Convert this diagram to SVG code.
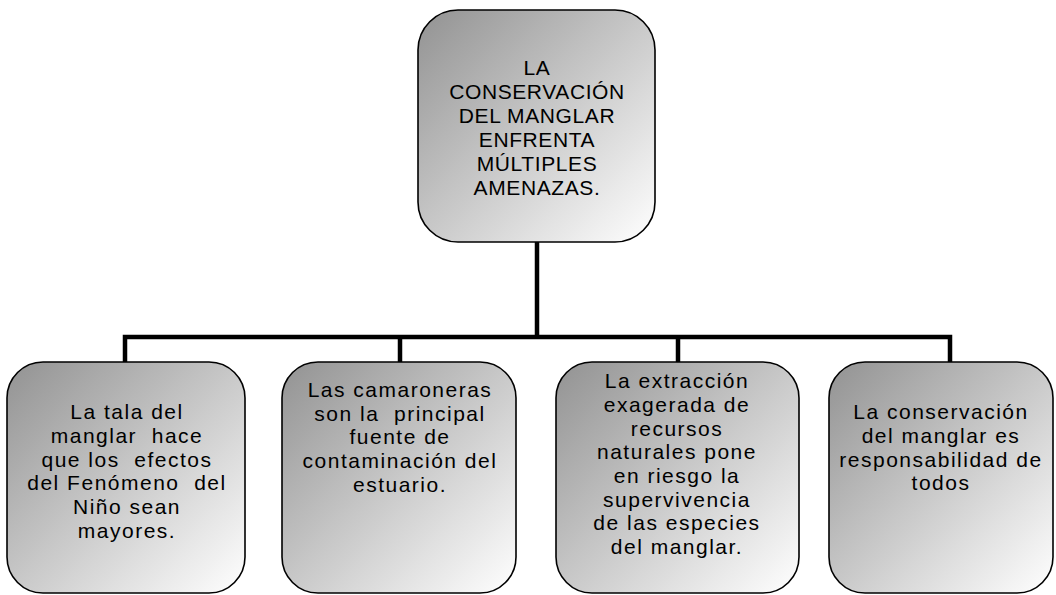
<svg xmlns="http://www.w3.org/2000/svg" width="1056" height="595" viewBox="0 0 1056 595">
<defs>
<linearGradient id="g" x1="0" y1="0" x2="1" y2="1">
<stop offset="0" stop-color="#929292"/>
<stop offset="1" stop-color="#ffffff"/>
</linearGradient>
<style>
.box{fill:url(#g);stroke:#000;stroke-width:1.6}
.t{font-family:"Liberation Sans",Arial,sans-serif;font-size:21px;letter-spacing:1.5px;fill:#000;text-anchor:middle;white-space:pre}
.h{font-size:21px;letter-spacing:0.6px}
.c{fill:none;stroke:#000;stroke-width:4.5;stroke-linejoin:miter;stroke-linecap:butt}
</style>
</defs>
<rect width="1056" height="595" fill="#fff"/>
<g id="connectors">
<path class="c" d="M537 242 V337"/>
<path class="c" d="M125 362 V337 H950 V362"/>
<path class="c" d="M400 337 V362"/>
<path class="c" d="M678 337 V362"/>
</g>
<g id="top">
<rect class="box" x="418" y="10" width="237" height="232" rx="40"/>
<text class="t h" x="537" y="75">LA</text>
<text class="t h" x="537" y="99">CONSERVACIÓN</text>
<text class="t h" x="537" y="123">DEL MANGLAR</text>
<text class="t h" x="537" y="147">ENFRENTA</text>
<text class="t h" x="537" y="171">MÚLTIPLES</text>
<text class="t h" x="537" y="195">AMENAZAS.</text>
</g>
<g id="n1">
<rect class="box" x="7" y="362" width="238" height="231" rx="36"/>
<text class="t" x="127" y="419">La tala del</text>
<text class="t" x="127" y="443">manglar  hace</text>
<text class="t" x="127" y="467">que los  efectos</text>
<text class="t" x="127" y="490">del Fenómeno  del</text>
<text class="t" x="127" y="514">Niño sean</text>
<text class="t" x="127" y="538">mayores.</text>
</g>
<g id="n2">
<rect class="box" x="282" y="362" width="234" height="231" rx="36"/>
<text class="t" x="400" y="397">Las camaroneras</text>
<text class="t" x="400" y="421">son la  principal</text>
<text class="t" x="400" y="444">fuente de</text>
<text class="t" x="400" y="468">contaminación del</text>
<text class="t" x="400" y="492">estuario.</text>
</g>
<g id="n3">
<rect class="box" x="556" y="362" width="243" height="231" rx="36"/>
<text class="t" x="677" y="388">La extracción</text>
<text class="t" x="677" y="412">exagerada de</text>
<text class="t" x="677" y="436">recursos</text>
<text class="t" x="677" y="459">naturales pone</text>
<text class="t" x="677" y="483">en riesgo la</text>
<text class="t" x="677" y="507">supervivencia</text>
<text class="t" x="677" y="530">de las especies</text>
<text class="t" x="677" y="554">del manglar.</text>
</g>
<g id="n4">
<rect class="box" x="829" y="362" width="224" height="231" rx="36"/>
<text class="t" x="941" y="419">La conservación</text>
<text class="t" x="941" y="443">del manglar es</text>
<text class="t" x="941" y="467">responsabilidad de</text>
<text class="t" x="941" y="490">todos</text>
</g>
</svg>
